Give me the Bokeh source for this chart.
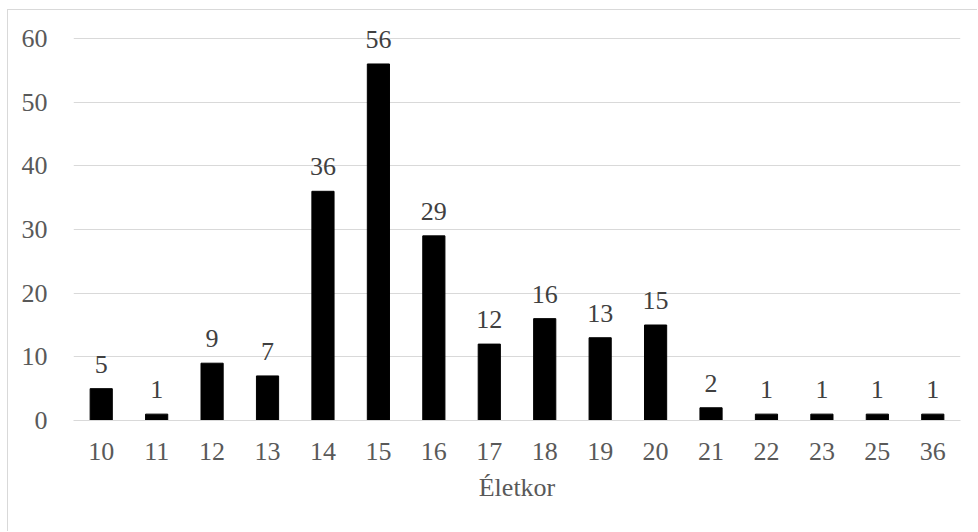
from bokeh.plotting import figure
from bokeh.models import ColumnDataSource, FactorRange, Range1d, LabelSet, FixedTicker
from bokeh.embed import file_html
from bokeh.resources import INLINE

ages = ["10", "11", "12", "13", "14", "15", "16", "17", "18", "19", "20", "21", "22", "23", "25", "36"]
counts = [5, 1, 9, 7, 36, 56, 29, 12, 16, 13, 15, 2, 1, 1, 1, 1]
y_ticks = [0, 10, 20, 30, 40, 50, 60]
x_title = "Életkor"

FONT = "Liberation Serif"
GREY = "#595959"
FS = "26px"

src = ColumnDataSource(dict(x=ages, y=counts, lab=[str(c) for c in counts]))

# frame spans from top of figure content to the zero line; 60 sits 28px below the top
p = figure(width=970, height=522, x_range=FactorRange(*ages), y_range=Range1d(0, 64.4),
           output_backend="svg", toolbar_location=None,
           min_border_left=65, min_border_right=18, min_border_top=0, min_border_bottom=112)
p.styles = {"border-top": "1px solid #d9d9d9", "border-left": "1px solid #d9d9d9",
            "margin-left": "7px", "margin-top": "9px"}
p.outline_line_color = None
p.x_range.range_padding = 0
p.vbar(x="x", top="y", width=0.4, color="black", source=src)

labels = LabelSet(x="x", y="y", text="lab", source=src, text_align="center", text_baseline="bottom",
                  y_offset=16, text_font=FONT, text_font_size=FS, text_color="#404040")
p.add_layout(labels)

p.yaxis.ticker = FixedTicker(ticks=y_ticks)
p.ygrid.grid_line_color = "#d9d9d9"
p.ygrid.grid_line_width = 1
p.xgrid.grid_line_color = None
p.yaxis.axis_line_color = None
p.yaxis.major_tick_line_color = None
p.yaxis.minor_tick_line_color = None
p.yaxis.major_label_text_font = FONT
p.yaxis.major_label_text_font_size = FS
p.yaxis.major_label_text_color = GREY
p.yaxis.major_label_standoff = 20

p.xaxis.axis_line_color = "#d9d9d9"
p.xaxis.major_tick_line_color = None
p.xaxis.minor_tick_line_color = None
p.xaxis.major_label_text_font = FONT
p.xaxis.major_label_text_font_size = FS
p.xaxis.major_label_text_color = GREY
p.xaxis.major_label_standoff = 16
p.xaxis.axis_label = x_title
p.xaxis.axis_label_text_font = FONT
p.xaxis.axis_label_text_font_size = FS
p.xaxis.axis_label_text_font_style = "normal"
p.xaxis.axis_label_text_color = GREY
p.xaxis.axis_label_standoff = 10

open("out.html", "w").write(file_html(p, INLINE))
